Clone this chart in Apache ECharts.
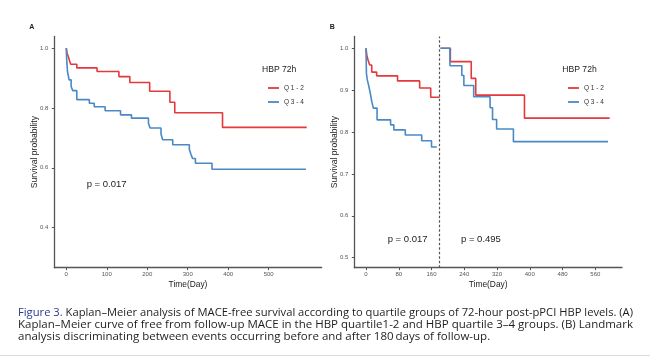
<!DOCTYPE html>
<html><head><meta charset="utf-8">
<script src="https://cdn.jsdelivr.net/npm/echarts@6/dist/echarts.min.js"></script>
<style>html,body{margin:0;padding:0;background:#fff;}#c{width:650px;height:357px;}</style>
</head><body><div id="c"></div>
<script>
// ---- Data ----
const seriesNames = ['Q 1 - 2', 'Q 3 - 4'];
// Panel A
const aQ12Time = [0, 2, 5, 8, 11, 26, 76, 130, 157, 206, 256, 268, 386, 594];
const aQ12Surv = [1.0, 0.983, 0.972, 0.958, 0.946, 0.934, 0.922, 0.905, 0.885, 0.856, 0.819, 0.784, 0.735, 0.735];
const aQ34Time = [0, 1, 3, 7, 12, 16, 26, 57, 69, 96, 134, 161, 203, 207, 234, 238, 263, 304, 308, 312, 319, 360, 592];
const aQ34Surv = [1.0, 0.961, 0.922, 0.894, 0.872, 0.858, 0.828, 0.816, 0.804, 0.791, 0.777, 0.766, 0.749, 0.733, 0.713, 0.694, 0.677, 0.661, 0.645, 0.631, 0.615, 0.595, 0.595];
// Panel B (landmark at 180 days)
const bQ12EarlyTime = [0, 2, 5, 9, 14, 26, 77, 131, 158, 180];
const bQ12EarlySurv = [1.0, 0.983, 0.972, 0.96, 0.943, 0.934, 0.922, 0.905, 0.883, 0.883];
const bQ34EarlyTime = [0, 1, 3, 6, 10, 14, 18, 27, 60, 68, 96, 136, 160, 173];
const bQ34EarlySurv = [1.0, 0.94, 0.925, 0.913, 0.895, 0.873, 0.857, 0.829, 0.817, 0.805, 0.793, 0.779, 0.764, 0.764];
const bQ12LateTime = [182, 206, 257, 268, 387, 595];
const bQ12LateSurv = [1.0, 0.968, 0.928, 0.888, 0.833, 0.833];
const bQ34LateTime = [182, 205, 234, 239, 263, 303, 309, 319, 360, 591];
const bQ34LateSurv = [1.0, 0.958, 0.935, 0.911, 0.884, 0.858, 0.83, 0.807, 0.777, 0.777];
const landmarkDay = 180;
// Tick labels
const aTicksX = [0, 100, 200, 300, 400, 500];
const aTicksY = [0.4, 0.6, 0.8, 1.0];
const bTicksX = [0, 80, 160, 240, 320, 400, 480, 560];
const bTicksY = [0.5, 0.6, 0.7, 0.8, 0.9, 1.0];
const pTexts = ['p = 0.017', 'p = 0.017', 'p = 0.495'];
const legendTitle = 'HBP 72h';
const panelLabels = ['A', 'B'];
const xTitle = 'Time(Day)';
const yTitle = 'Survival probability';
const captionHead = 'Figure 3.';
const captionLines = [
  ' Kaplan\u2013Meier analysis of MACE-free survival according to quartile groups of 72-hour post-pPCI HBP levels. (A)',
  'Kaplan\u2013Meier curve of free from follow-up MACE in the HBP quartile1-2 and HBP quartile 3\u20134 groups. (B) Landmark',
  'analysis discriminating between events occurring before and after 180\u2009days of follow-up.'
];

// ---- Styling ----
const RED = '#e4393c', BLUE = '#4a89c5';
const FONT = '"Liberation Sans", Arial, sans-serif';
const zip = (t, s) => t.map((v, i) => [v, s[i]]);

function xAxis(grid, min, max, ticks) {
  return {
    type: 'value', gridIndex: grid, min: min, max: max,
    name: xTitle, nameLocation: 'middle', nameGap: 13, nameMoveOverlap: false,
    nameTextStyle: { fontFamily: FONT, fontSize: 8.4, color: '#222' },
    axisLine: { onZero: false, lineStyle: { color: '#555', width: 1.3 } },
    axisTick: { customValues: ticks, length: 2.5, lineStyle: { color: '#555', width: 1 } },
    axisLabel: { customValues: ticks, margin: 3.5, fontFamily: FONT, fontSize: 6, color: '#555' },
    splitLine: { show: false }
  };
}
function yAxis(grid, min, max, ticks) {
  return {
    type: 'value', gridIndex: grid, min: min, max: max,
    name: yTitle, nameLocation: 'middle', nameGap: 15, nameMoveOverlap: false,
    nameTextStyle: { fontFamily: FONT, fontSize: 8.6, color: '#222' },
    axisLine: { onZero: false, lineStyle: { color: '#555', width: 1.3 } },
    axisTick: { customValues: ticks, length: 2.5, lineStyle: { color: '#555', width: 1 } },
    axisLabel: { customValues: ticks, margin: 6, fontFamily: FONT, fontSize: 6, color: '#555',
      formatter: v => v.toFixed(1) },
    splitLine: { show: false }
  };
}
function km(name, color, xi, data, extra) {
  return Object.assign({
    type: 'line', name: name, color: color, xAxisIndex: xi, yAxisIndex: xi,
    step: 'end', symbol: 'none', data: data, animation: false, clip: false,
    lineStyle: { color: color, width: 1.6 }
  }, extra || {});
}
function legend(left) {
  return {
    data: seriesNames, orient: 'vertical', left: left, top: 78, icon: 'rect',
    itemWidth: 11, itemHeight: 1.8, itemGap: 4, selectedMode: false,
    textStyle: { fontFamily: FONT, fontSize: 6.5, color: '#333', lineHeight: 10 }
  };
}
function txt(x, y, text, size, extra) {
  return { type: 'text', x: x, y: y, silent: true,
    style: Object.assign({ text: text, fontSize: size, fontFamily: FONT, fill: '#222',
      verticalAlign: 'middle' }, extra || {}) };
}

// caption scaling (justify-like)
const CAP_FONT = '"Open Sans", "Noto Sans", sans-serif';
const capSize = 10.3;
const ctx = document.createElement('canvas').getContext('2d');
ctx.font = capSize + 'px ' + CAP_FONT;
const w0 = ctx.measureText(captionHead + captionLines[0]).width;
const w1 = ctx.measureText(captionLines[1]).width;
const s0 = 615 / w0, s1 = 615 / w1;
const capY = [313.3, 325.3, 336.7];
function capLine(i, text, scale) {
  return { type: 'text', x: 18, y: capY[i], scaleX: scale, silent: true,
    style: { text: text, fontSize: capSize, fontFamily: CAP_FONT, fill: '#1e1e1e',
      verticalAlign: 'middle',
      rich: { b: { fill: '#2b3990', fontSize: capSize, fontFamily: CAP_FONT } } } };
}

const chart = echarts.init(document.getElementById('c'), null, { renderer: 'canvas' });
chart.setOption({
  backgroundColor: '#fff',
  animation: false,
  grid: [
    { left: 54.3, top: 36.5, width: 267.4, height: 231.2 },
    { left: 354.3, top: 36.5, width: 267.7, height: 231.2 }
  ],
  xAxis: [xAxis(0, -29.6, 631, aTicksX), xAxis(1, -28.6, 625.2, bTicksX)],
  yAxis: [yAxis(0, 0.266, 1.039, aTicksY), yAxis(1, 0.476, 1.028, bTicksY)],
  legend: [legend(263), legend(563)],
  series: [
    km(seriesNames[0], RED, 0, zip(aQ12Time, aQ12Surv)),
    km(seriesNames[1], BLUE, 0, zip(aQ34Time, aQ34Surv)),
    km(seriesNames[0], RED, 1, zip(bQ12EarlyTime, bQ12EarlySurv), {
      markLine: { silent: true, symbol: 'none', label: { show: false },
        lineStyle: { color: '#555', type: [2.5, 2], width: 1.2 },
        data: [{ xAxis: landmarkDay }] }
    }),
    km(seriesNames[1], BLUE, 1, zip(bQ34EarlyTime, bQ34EarlySurv)),
    km(seriesNames[0], RED, 1, zip(bQ12LateTime, bQ12LateSurv)),
    km(seriesNames[1], BLUE, 1, zip(bQ34LateTime, bQ34LateSurv))
  ],
  graphic: [
    txt(31.7, 26.7, panelLabels[0], 7, { fontWeight: 'bold', align: 'center' }),
    txt(332.3, 26.7, panelLabels[1], 7, { fontWeight: 'bold', align: 'center' }),
    txt(262, 70, legendTitle, 8.6),
    txt(562.3, 70, legendTitle, 8.6),
    txt(86.7, 184.3, pTexts[0], 9.5),
    txt(387.7, 239, pTexts[1], 9.5),
    txt(461, 239, pTexts[2], 9.5),
    capLine(0, '{b|' + captionHead + '}' + captionLines[0], s0),
    capLine(1, captionLines[1], s1),
    capLine(2, captionLines[2], s1),
    { type: 'line', silent: true, shape: { x1: 0, y1: 355.5, x2: 650, y2: 355.5 }, style: { stroke: '#dcdcdc', lineWidth: 1 } }
  ]
});
</script></body></html>
